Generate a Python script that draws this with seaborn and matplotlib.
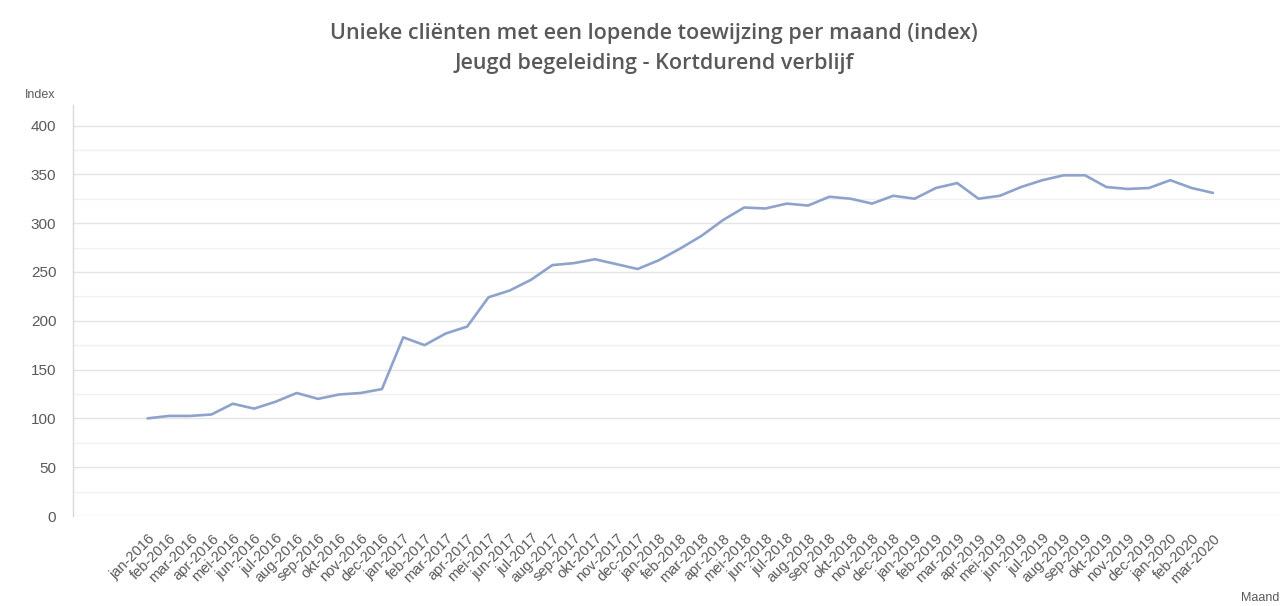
import matplotlib
matplotlib.use("Agg")
import matplotlib.pyplot as plt
import seaborn as sns
import pandas as pd
import numpy as np

months = ["jan", "feb", "mar", "apr", "mei", "jun", "jul", "aug", "sep", "okt", "nov", "dec"]
month_labels = [f"{m}-{y}" for y in range(2016, 2021) for m in months][:51]

index_values = [
    100, 102.5, 102.5, 104, 115, 110, 117, 126, 120, 124.5, 126, 130,
    183, 175, 187, 194, 224, 231, 242, 257, 259, 263, 258, 253,
    262, 274, 287, 303, 316, 315, 320, 318, 327, 325, 320, 328,
    325, 336, 341, 325, 328, 337, 344, 349, 349, 337, 335, 336,
    344, 336, 331,
]

title_line1 = "Unieke cliënten met een lopende toewijzing per maand (index)"
title_line2 = "Jeugd begeleiding - Kortdurend verblijf"

df = pd.DataFrame({"pos": np.arange(len(month_labels)), "maand": month_labels, "index": index_values})

sns.set_theme(style="white")
plt.rcParams["font.family"] = ["Liberation Sans", "DejaVu Sans"]

fig = plt.figure(figsize=(12.83, 6.06), dpi=100)
ax = fig.add_axes([73 / 1283, 90 / 606, (1280 - 73) / 1283, (516 - 105) / 606])

sns.lineplot(data=df, x="pos", y="index", ax=ax, color="#8EA3CB", linewidth=1.9)

ax.set_ylim(0, 421)
ax.set_xlim(-3.5, 53.15)
ax.set_yticks(np.arange(0, 401, 50))
ax.set_yticks(np.arange(25, 401, 50), minor=True)
ax.grid(axis="y", which="major", color="#e4e4e4", linewidth=1.0)
ax.grid(axis="y", which="minor", color="#f1f1f1", linewidth=1.0)
ax.grid(axis="x", visible=False)
ax.set_axisbelow(True)

ax.set_xticks(df["pos"])
ax.set_xticklabels(df["maand"], rotation=45, ha="right", rotation_mode="anchor",
                   fontsize=10.5, color="#595959")
ax.tick_params(axis="x", length=0, pad=11)
ax.tick_params(axis="y", which="both", length=0, pad=12, labelsize=11, labelcolor="#595959")

for s in ["top", "right", "bottom"]:
    ax.spines[s].set_visible(False)
ax.spines["left"].set_color("#d9d9d9")
ax.spines["left"].set_linewidth(1.0)

ax.set_xlabel("")
ax.set_ylabel("")

fig.text(40 / 1283, 1 - 95 / 606, "Index", ha="center", va="center", fontsize=9, color="#595959")
fig.text(1260 / 1283, 1 - 598 / 606, "Maand", ha="center", va="center", fontsize=9, color="#595959")

fig.text(654 / 1283, 1 - 34 / 606, title_line1, ha="center", va="center", fontsize=15.5,
         color="#595959", family=["Open Sans", "DejaVu Sans"], fontweight="semibold")
fig.text(654 / 1283, 1 - 63 / 606, title_line2, ha="center", va="center", fontsize=15.5,
         color="#595959", family=["Open Sans", "DejaVu Sans"], fontweight="semibold")

fig.savefig("out.png", dpi=100, facecolor="white")
